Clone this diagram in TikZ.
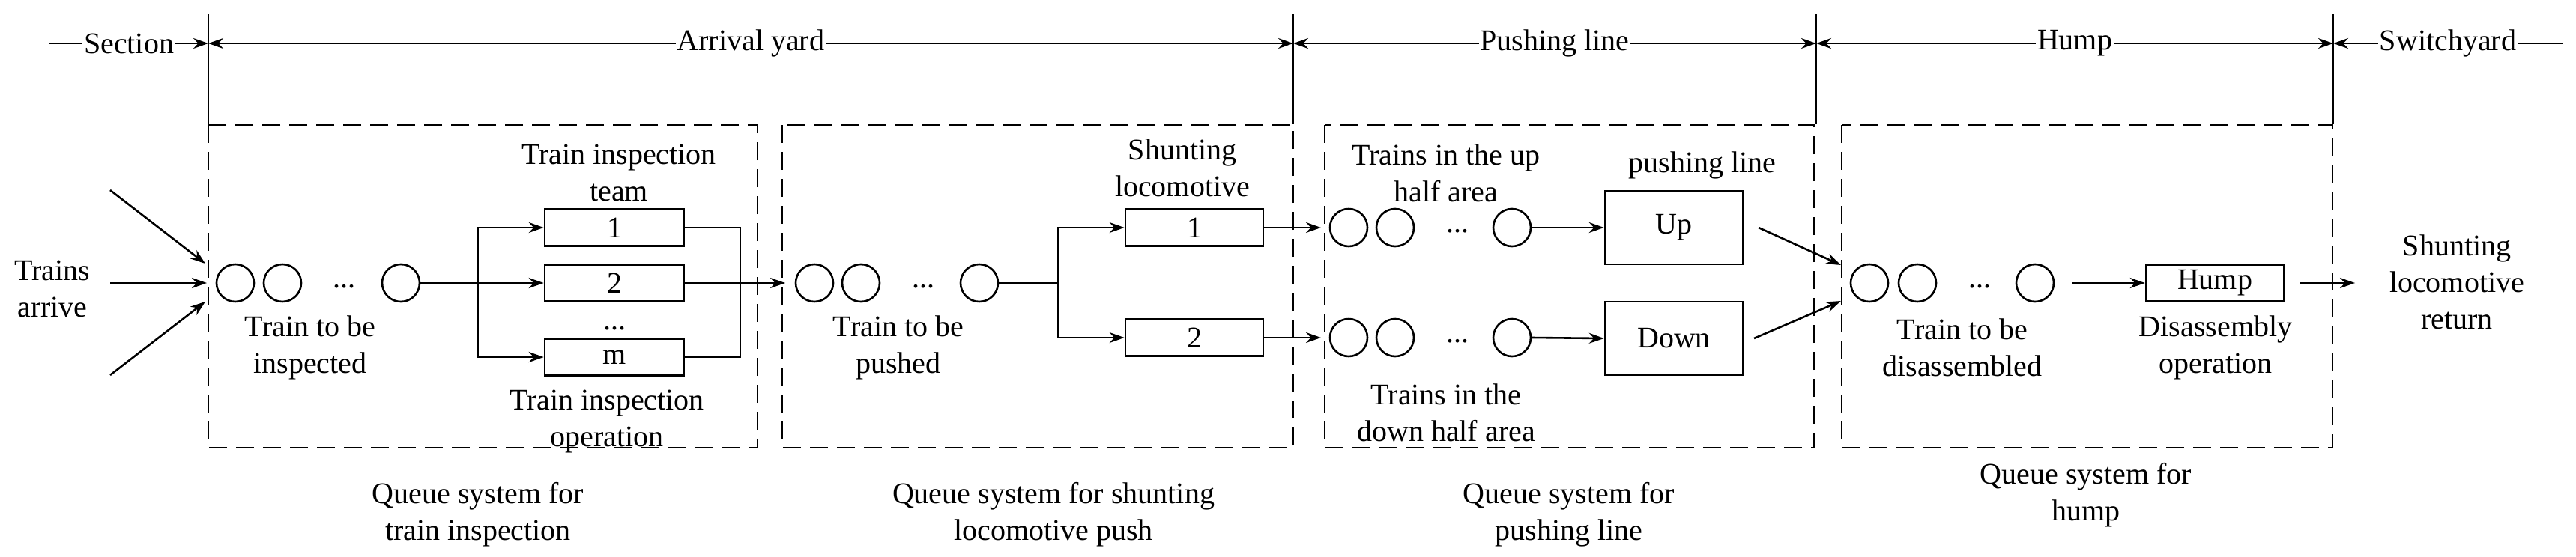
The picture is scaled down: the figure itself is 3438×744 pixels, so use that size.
\documentclass[tikz,border=0pt]{standalone}
\usepackage{fontspec}
\setmainfont{Liberation Serif}
\usetikzlibrary{arrows.meta}
\begin{document}
\begin{tikzpicture}[x=1pt,y=-1pt,line width=2.6pt,
  every node/.style={font=\fontsize{40}{49}\selectfont,align=center,inner sep=0},
  q/.style={circle,draw,minimum size=50pt,inner sep=0},
  box/.style={draw,minimum width=186pt,minimum height=49pt},
  arr/.style={-{Stealth[length=20pt,width=14pt]}},
  dim/.style={{Stealth[length=20pt,width=14pt]}-{Stealth[length=20pt,width=14pt]}},
  zone/.style={draw,dash pattern=on 24pt off 12pt,line width=2.2pt},
  lab/.style={fill=white,inner xsep=2pt}]
\useasboundingbox (0,0) rectangle (3438,744);
% dimension line
\coordinate (v0t) at (278,19); \coordinate (v0b) at (278,166);
\coordinate (v1t) at (1726,19); \coordinate (v1b) at (1726,166);
\coordinate (v2t) at (2424,19); \coordinate (v2b) at (2424,166);
\coordinate (v3t) at (3114,19); \coordinate (v3b) at (3114,166);
\draw (v0t)--(v0b); \draw (v1t)--(v1b); \draw (v2t)--(v2b); \draw (v3t)--(v3b);
\coordinate (secL) at (66,58); \coordinate (swR) at (3420,58);
\draw[arr] (secL) -- node[lab]{Section} (278,58);
\draw[dim] (278,58) -- node[lab]{Arrival yard} (1726,58);
\draw[dim] (1726,58) -- node[lab]{Pushing line} (2424,58);
\draw[dim] (2424,58) -- node[lab]{Hump} (3114,58);
\draw[{Stealth[length=20pt,width=14pt]}-] (3114,58) -- node[lab]{Switchyard} (swR);
% zones
\draw[zone] (278,167) rectangle (1011,598);
\draw[zone] (1044,167) rectangle (1726,598);
\draw[zone] (1768,167) rectangle (2421,598);
\draw[zone] (2458,167) rectangle (3113,598);
% stage 1
\node (arrive) at (70,386) {Trains\\arrive};
\coordinate (a1) at (147,254); \coordinate (a2) at (147,378); \coordinate (a3) at (147,501);
\coordinate (in1) at (276,378);
\draw[arr] (a1) -- (274,352); \draw[arr] (a2) -- (in1); \draw[arr] (a3) -- (274,403);
\node[q] (c11) at (314,378) {}; \node[q] (c12) at (377,378) {};
\node[anchor=base] (d1) at (459,384) {...};
\node[q] (c13) at (535,378) {};
\node (l1) at (414,464) {Train to be\\inspected};
\node[box] (t1) at (820,304) {1};
\node[box] (t2) at (820,378) {2};
\node[anchor=base] (tdots) at (820,440) {...};
\node[box] (tm) at (820,477) {m};
\node (team) at (826,231) {Train inspection\\team};
\node (op) at (810,563) {Train inspection\\operation};
\coordinate (s1) at (638,378);
\draw (c13.east) -- (s1);
\draw[arr] (s1) |- (t1.west); \draw[arr] (s1) -- (t2.west); \draw[arr] (s1) |- (tm.west);
\coordinate (j1) at (988,378);
\draw (t1.east) -| (j1); \draw (tm.east) -| (j1);
\coordinate (in2) at (1048,378);
\draw[arr] (t2.east) -- (in2);
\node (qs1) at (638,687) {Queue system for\\train inspection};
% stage 2
\node[q] (c21) at (1087,378) {}; \node[q] (c22) at (1149,378) {};
\node[anchor=base] (d2) at (1232,384) {...};
\node[q] (c23) at (1307,378) {};
\node (l2) at (1199,464) {Train to be\\pushed};
\node[box,minimum width=184pt] (p1) at (1594,304) {1};
\node[box,minimum width=184pt] (p2) at (1594,451) {2};
\node (shl) at (1578,224) {Shunting\\locomotive};
\coordinate (s2) at (1412,378);
\draw (c23.east) -- (s2);
\draw[arr] (s2) |- (p1.west); \draw[arr] (s2) |- (p2.west);
\coordinate (in3u) at (1763,304); \coordinate (in3d) at (1763,451);
\draw[arr] (p1.east) -- (in3u); \draw[arr] (p2.east) -- (in3d);
\node (qs2) at (1406,687) {Queue system for shunting\\locomotive push};
% stage 3
\node[q] (u1) at (1800,304) {}; \node[q] (u2) at (1862,304) {};
\node[anchor=base] (ud) at (1945,310) {...};
\node[q] (u3) at (2018,304) {};
\node[q] (w1) at (1800,451) {}; \node[q] (w2) at (1862,451) {};
\node[anchor=base] (wd) at (1945,457) {...};
\node[q] (w3) at (2018,451) {};
\node[draw,minimum width=184pt,minimum height=98pt] (up) at (2234,304) {Up};
\node[draw,minimum width=184pt,minimum height=98pt] (down) at (2234,452) {Down};
\draw[arr] (u3.east) -- (up.west); \draw[arr] (w3.east) -- (down.west);
\node (tup) at (1930,231) {Trains in the up\\half area};
\node (pl) at (2272,221) {pushing line};
\node (tdn) at (1930,551) {Trains in the\\down half area};
\node (qs3) at (2094,687) {Queue system for\\pushing line};
% stage 4
\coordinate (in4u) at (2457,354); \coordinate (in4d) at (2457,402);
\coordinate (o3u) at (2347,304); \coordinate (o3d) at (2341,452);
\draw[arr] (o3u) -- (in4u); \draw[arr] (o3d) -- (in4d);
\node[q] (h1) at (2495,378) {}; \node[q] (h2) at (2559,378) {};
\node[anchor=base] (hd) at (2642,384) {...};
\node[q] (h3) at (2716,378) {};
\node[box,minimum width=184pt] (hump) at (2956,378) {Hump};
\draw[arr] (2765,378) -- (hump.west);
\coordinate (ret) at (3143,378);
\draw[arr] (hump.east) ++(20,0) -- (ret);
\node (l4) at (2619,464) {Train to be\\disassembled};
\node (dis) at (2957,464) {Disassembly\\operation};
\node (sret) at (3279,377) {Shunting\\locomotive\\return};
\node (qs4) at (2784,661) {Queue system for\\hump};
\end{tikzpicture}
\end{document}
